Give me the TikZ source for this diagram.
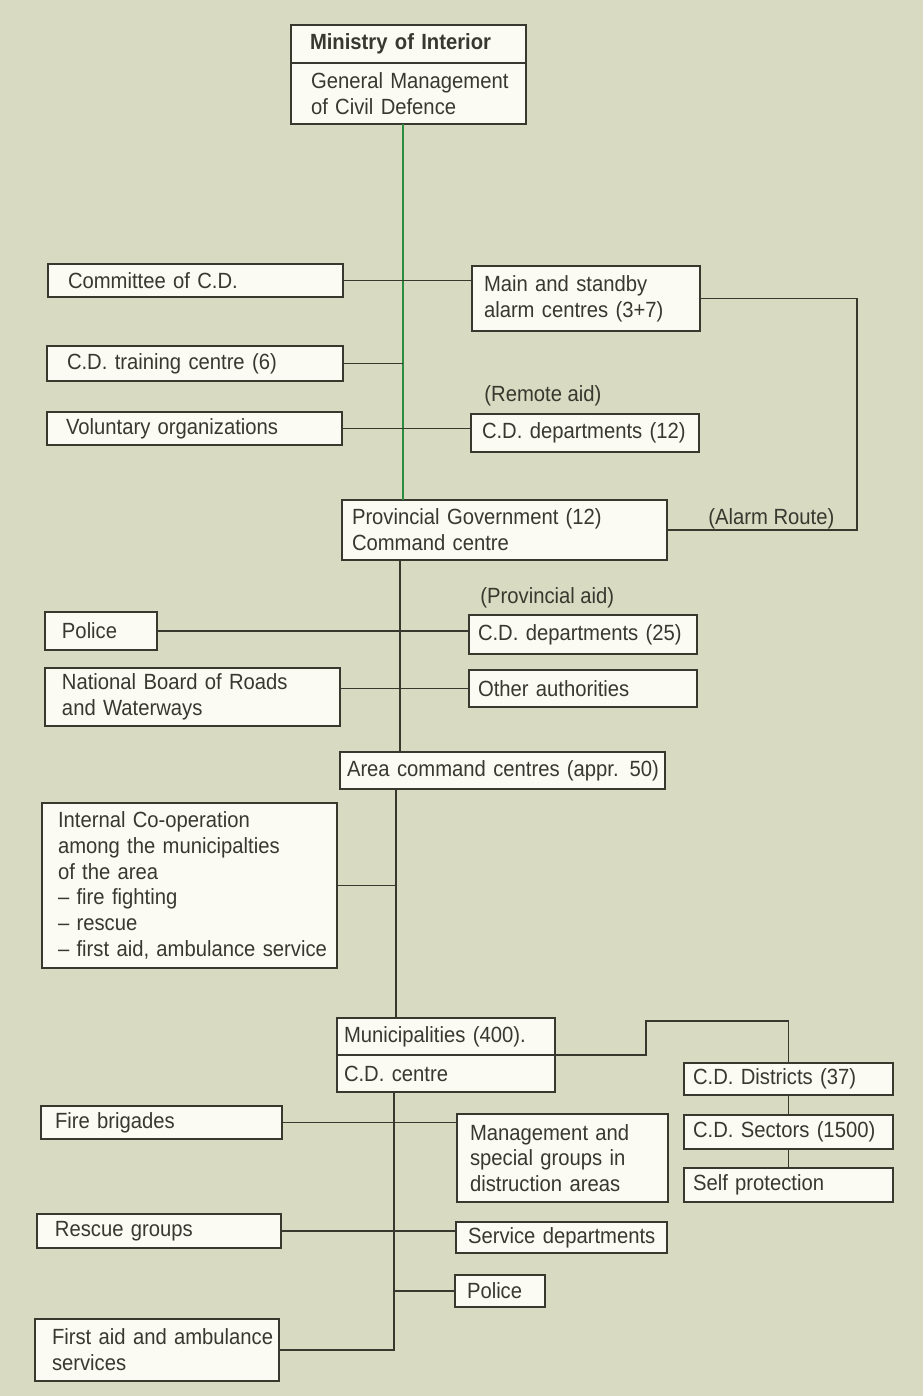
\documentclass[tikz,border=0pt]{standalone}
\usepackage{fontspec}
\setmainfont{Liberation Sans}[FakeStretch=0.92]
\usepackage{tikz}
\usepackage{xcolor}

\definecolor{paper}{RGB}{216,219,193}
\definecolor{boxfill}{RGB}{251,251,244}
\definecolor{ink}{RGB}{55,56,46}
\definecolor{trunkgreen}{RGB}{44,140,62}

\tikzset{
  unitbox/.style={draw=ink, fill=boxfill, line width=1.2pt, anchor=north west,
    align=left, inner xsep=0pt, inner ysep=0pt, outer sep=0pt, text=ink,
    font=\fontsize{11}{12.9}\selectfont},
  lpad/.style={execute at begin node={\leftskip=#1\relax\rightskip=0pt plus 1fil\relax\hyphenpenalty=10000\relax}},
  lbl/.style={anchor=west, inner sep=0pt, text=ink, font=\fontsize{11}{12.9}\selectfont},
  link/.style={draw=ink, line width=0.9pt},
}

\begin{document}
\begin{tikzpicture}[x=0.5pt,y=-0.5pt]
  \fill[paper] (0,0) rectangle (923,1396);
  \useasboundingbox (0,0) rectangle (923,1396);

  % top of the chain
  \node[unitbox, lpad=9.5pt, text width=117.5pt, minimum height=19pt,
    font=\fontsize{11}{12.9}\selectfont\bfseries] (ministry) at (291,25) {Ministry of Interior};
  \node[unitbox, lpad=10pt, text width=117.5pt, minimum height=30.5pt] (general) at (291,63)
    {General Management\\of Civil Defence};

  \node[unitbox, lpad=10pt, text width=147.5pt, minimum height=16.5pt] (committee) at (48,264) {Committee of C.D.};
  \node[unitbox, lpad=10pt, text width=148pt, minimum height=17.5pt] (training) at (47,346) {C.D. training centre (6)};
  \node[unitbox, lpad=9.5pt, text width=147.5pt, minimum height=16.5pt] (voluntary) at (47,412) {Voluntary organizations};
  \node[unitbox, lpad=6pt, text width=114pt, minimum height=32.5pt] (alarm) at (472,266)
    {Main and standby\\alarm centres (3+7)};
  \node[lbl] (remote) at (484,396) {(Remote aid)};
  \node[unitbox, lpad=5.5pt, text width=114pt, minimum height=19pt] (dept12) at (471,414) {C.D. departments (12)};

  % provincial level
  \node[unitbox, lpad=5pt, text width=162.5pt, minimum height=30pt] (province) at (342,500)
    {Provincial Government (12)\\Command centre};
  \node[lbl] (routelbl) at (708,519) {(Alarm Route)};
  \coordinate (route) at (857,400);

  \node[unitbox, lpad=8.5pt, text width=56pt, minimum height=19pt] (police1) at (45,612) {Police};
  \node[lbl] (provaid) at (480,598) {(Provincial aid)};
  \node[unitbox, lpad=4.5pt, text width=114pt, minimum height=19.5pt] (dept25) at (469,615) {C.D. departments (25)};
  \node[unitbox, lpad=8.5pt, text width=147.5pt, minimum height=29pt] (roads) at (45,668)
    {National Board of Roads\\and Waterways};
  \node[unitbox, lpad=4.5pt, text width=114pt, minimum height=18.5pt] (others) at (469,670) {Other authorities};

  % area level
  \node[unitbox, lpad=3.5pt, text width=162.5pt, minimum height=18.5pt] (area) at (340,752)
    {Area command centres (appr. 50)};
  \node[unitbox, lpad=8pt, text width=147.5pt, minimum height=82.5pt] (coop) at (42,803)
    {Internal Co-operation\\among the municipalties\\of the area\\-- fire fighting\\-- rescue\\-- first aid, ambulance service};

  % municipal level
  \node[unitbox, lpad=3.5pt, text width=109pt, minimum height=18.5pt] (munic) at (337,1018) {Municipalities (400).};
  \node[unitbox, lpad=3.5pt, text width=109pt, minimum height=18.5pt] (cdcentre) at (337,1055) {C.D. centre};
  \node[unitbox, lpad=4.5pt, text width=104.5pt, minimum height=16pt] (districts) at (684,1063) {C.D. Districts (37)};
  \node[unitbox, lpad=4.5pt, text width=104.5pt, minimum height=17pt] (sectors) at (684,1115) {C.D. Sectors (1500)};
  \node[unitbox, lpad=4.5pt, text width=104.5pt, minimum height=17pt] (selfprot) at (684,1168) {Self protection};
  \coordinate (jog) at (646,1021);

  \node[unitbox, lpad=7pt, text width=120.5pt, minimum height=16.5pt] (fire) at (41,1106) {Fire brigades};
  \node[unitbox, lpad=6.5pt, text width=105.5pt, minimum height=44pt] (mgmt) at (457,1114)
    {Management and\\special groups in\\distruction areas};
  \node[unitbox, lpad=9pt, text width=122pt, minimum height=17pt] (rescue) at (37,1214) {Rescue groups};
  \node[unitbox, lpad=6pt, text width=105.5pt, minimum height=15.5pt] (service) at (456,1222) {Service departments};
  \node[unitbox, lpad=6pt, text width=45pt, minimum height=16pt] (police2) at (455,1275) {Police};
  \node[unitbox, lpad=8.5pt, text width=122pt, minimum height=31pt] (firstaid) at (35,1319)
    {First aid and ambulance\\services};

  % trunk lines
  \coordinate (trunkA) at (403,0);
  \coordinate (trunkB) at (400,0);
  \coordinate (trunkC) at (396,0);
  \coordinate (trunkD) at (394,0);
  \draw[draw=trunkgreen, line width=0.9pt] (general.south -| trunkA) -- (province.north -| trunkA);
  \draw[link] (province.south -| trunkB) -- (area.north -| trunkB);
  \draw[link] (area.south -| trunkC) -- (munic.north -| trunkC);
  \draw[link] (cdcentre.south -| trunkD) |- (firstaid.east);

  % branches
  \draw[link] (committee.east) -- (committee.east -| alarm.west);
  \draw[link] (training.east) -- (training.east -| trunkA);
  \draw[link] (voluntary.east) -- (voluntary.east -| dept12.west);
  \draw[link] (alarm.east) -| (route) |- (province.east);
  \draw[link] (police1.east) -- (police1.east -| dept25.west);
  \draw[link] (others.west) -- (others.west -| roads.east);
  \draw[link] (coop.east) -- (coop.east -| trunkC);
  \draw[link] (munic.south east) -| (jog) -| (districts.north);
  \draw[link] (districts.south) -- (sectors.north);
  \draw[link] (sectors.south) -- (selfprot.north);
  \draw[link] (fire.east) -- (fire.east -| mgmt.west);
  \draw[link] (rescue.east) -- (rescue.east -| service.west);
  \draw[link] (police2.west) -- (police2.west -| trunkD);
\end{tikzpicture}
\end{document}
